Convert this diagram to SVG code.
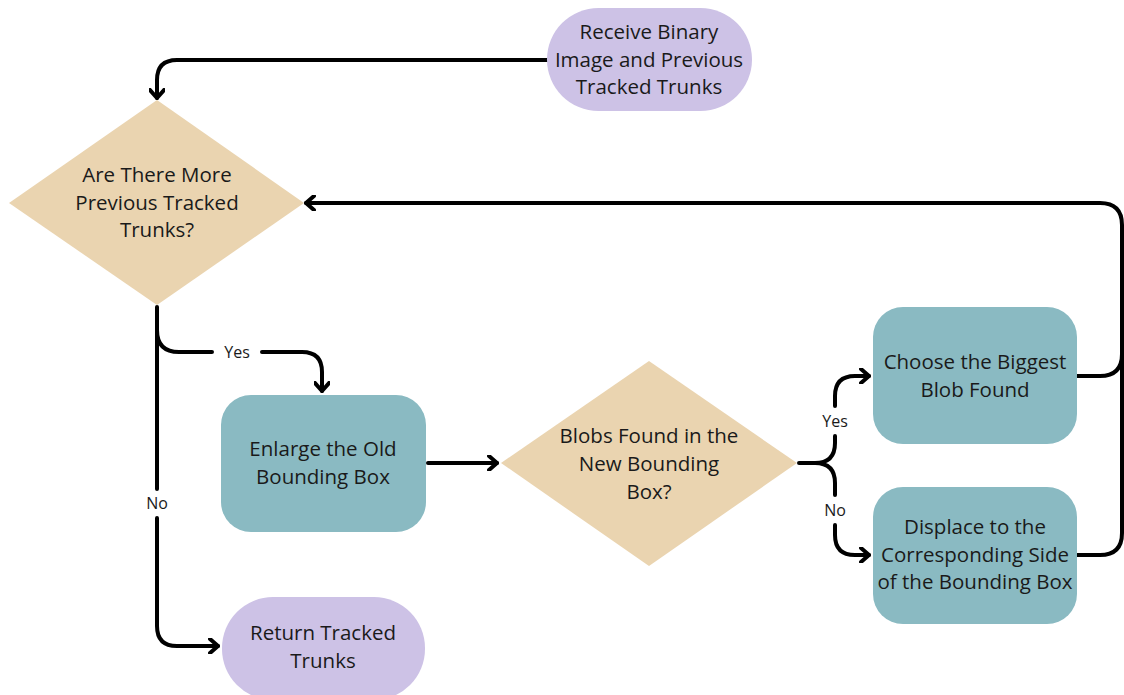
<svg xmlns="http://www.w3.org/2000/svg" width="1124" height="695" viewBox="0 0 1124 695">
<defs>
<style>
.t{font-family:"Open Sans","Noto Sans",sans-serif;font-size:20.5px;fill:#1a1a1a;text-anchor:middle}
.l{font-family:"Open Sans","Noto Sans",sans-serif;font-size:16px;fill:#1a1a1a;text-anchor:middle}
.c{fill:none;stroke:#000;stroke-width:4;stroke-linecap:round;stroke-linejoin:round}
.p{fill:#CDC2E6}
.d{fill:#EAD4B0}
.b{fill:#8ABAC2}
</style>
<marker id="a" markerWidth="12" markerHeight="16" viewBox="0 0 12 16" refX="10" refY="8" orient="auto" markerUnits="userSpaceOnUse">
<path d="M2,1 L10,8 L2,15" fill="none" stroke="#000" stroke-width="4" stroke-linecap="round" stroke-linejoin="round"/>
</marker>
</defs>
<rect width="1124" height="695" fill="#fff"/>
<g id="connectors">
<path class="c" d="M547,60 H177 Q157,60 157,80 V98" marker-end="url(#a)"/>
<path class="c" d="M1077,376 H1100 Q1122,376 1122,354 V225 Q1122,203 1100,203 H306" marker-end="url(#a)"/>
<path class="c" d="M1077,555 H1100 Q1122,555 1122,533 V354"/>
<path class="c" d="M157,307 V489"/>
<path class="c" d="M157,518 V626 Q157,646 177,646 H218" marker-end="url(#a)"/>
<path class="c" d="M157,330 Q157,352 179,352 H212"/>
<path class="c" d="M262,352 H302 Q322,352 322,372 V391" marker-end="url(#a)"/>
<path class="c" d="M428,463 H497" marker-end="url(#a)"/>
<path class="c" d="M799,463 H815 Q835,463 835,443 V436"/>
<path class="c" d="M835,406 V396 Q835,376 855,376 H869" marker-end="url(#a)"/>
<path class="c" d="M815,463 Q835,463 835,483 V495"/>
<path class="c" d="M835,525 V535 Q835,555 855,555 H869" marker-end="url(#a)"/>
<text class="l" x="237" y="358">Yes</text>
<text class="l" x="157" y="509">No</text>
<text class="l" x="835" y="427">Yes</text>
<text class="l" x="835" y="516">No</text>
</g>
<g id="start">
<rect class="p" x="547" y="8" width="205" height="103" rx="51.5"/>
<text class="t" x="649" y="39">Receive Binary</text>
<text class="t" x="649" y="67">Image and Previous</text>
<text class="t" x="649" y="94">Tracked Trunks</text>
</g>
<g id="more">
<polygon class="d" points="157,100 304,203 157,305 9,203"/>
<text class="t" x="157" y="182">Are There More</text>
<text class="t" x="157" y="210">Previous Tracked</text>
<text class="t" x="157" y="237">Trunks?</text>
</g>
<g id="enlarge">
<rect class="b" x="221" y="395" width="205" height="137" rx="30"/>
<text class="t" x="323" y="456">Enlarge the Old</text>
<text class="t" x="323" y="484">Bounding Box</text>
</g>
<g id="found">
<polygon class="d" points="649,361 797,463 649,566 501,463"/>
<text class="t" x="649" y="443">Blobs Found in the</text>
<text class="t" x="649" y="471">New Bounding</text>
<text class="t" x="649" y="499">Box?</text>
</g>
<g id="choose">
<rect class="b" x="873" y="307" width="204" height="137" rx="30"/>
<text class="t" x="975" y="369">Choose the Biggest</text>
<text class="t" x="975" y="397">Blob Found</text>
</g>
<g id="displace">
<rect class="b" x="873" y="487" width="204" height="137" rx="30"/>
<text class="t" x="975" y="534">Displace to the</text>
<text class="t" x="975" y="562">Corresponding Side</text>
<text class="t" x="975" y="589">of the Bounding Box</text>
</g>
<g id="return">
<rect class="p" x="222" y="597" width="203" height="103" rx="51"/>
<text class="t" x="323" y="640">Return Tracked</text>
<text class="t" x="323" y="668">Trunks</text>
</g>
</svg>
